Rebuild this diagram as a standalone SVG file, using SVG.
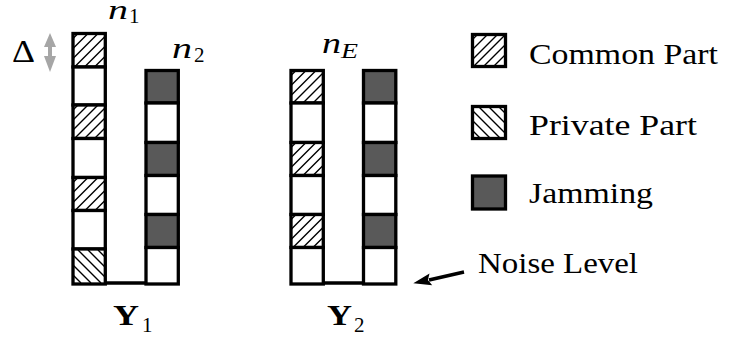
<svg xmlns="http://www.w3.org/2000/svg" width="729" height="340" viewBox="0 0 729 340">
<style>
.cell{stroke:#000;stroke-width:3.3;fill:#fff}
.d{fill:#595959}
.h{fill:none;stroke:#000;stroke-width:1.4}
.base{stroke:#000;stroke-width:3.3;fill:none}
</style>
<rect width="729" height="340" fill="#fff"/>

<g id="col-n1">
<rect class="cell" x="73" y="33.5" width="32.3" height="33.5"/>
<rect class="cell" x="73" y="67" width="32.3" height="38"/>
<rect class="cell" x="73" y="105" width="32.3" height="33.5"/>
<rect class="cell" x="73" y="138.5" width="32.3" height="39"/>
<rect class="cell" x="73" y="177.5" width="32.3" height="33"/>
<rect class="cell" x="73" y="210.5" width="32.3" height="38.5"/>
<rect class="cell" x="73" y="249" width="32.3" height="35"/>
<path class="h" transform="translate(73,33.5)" d="M0,5L5,0M0,15L15,0M0,25L25,0M2,33L32,3M12,33L32,13M22,33L32,23"/>
<path class="h" transform="translate(73,105)" d="M0,5L5,0M0,15L15,0M0,25L25,0M2,33L32,3M12,33L32,13M22,33L32,23"/>
<path class="h" transform="translate(73,177.5)" d="M0,5L5,0M0,15L15,0M0,25L25,0M2,33L32,3M12,33L32,13M22,33L32,23"/>
<path class="h" transform="translate(73,250)" d="M25,0L32,7M15,0L32,17M5,0L32,27M0,5L28,33M0,15L18,33M0,25L8,33"/>
</g>
<g id="col-n2">
<rect class="cell d" x="146" y="70.5" width="32.3" height="32.5"/>
<rect class="cell" x="146" y="103" width="32.3" height="39.5"/>
<rect class="cell d" x="146" y="142.5" width="32.3" height="33"/>
<rect class="cell" x="146" y="175.5" width="32.3" height="39"/>
<rect class="cell d" x="146" y="214.5" width="32.3" height="33"/>
<rect class="cell" x="146" y="247.5" width="32.3" height="36.5"/>
</g>
<g id="col-nE1">
<rect class="cell" x="291" y="70.5" width="32.3" height="32.5"/>
<rect class="cell" x="291" y="103" width="32.3" height="39.5"/>
<rect class="cell" x="291" y="142.5" width="32.3" height="33"/>
<rect class="cell" x="291" y="175.5" width="32.3" height="39"/>
<rect class="cell" x="291" y="214.5" width="32.3" height="33"/>
<rect class="cell" x="291" y="247.5" width="32.3" height="36.5"/>
<path class="h" transform="translate(291,70.5)" d="M0,5L5,0M0,15L15,0M0,25L25,0M2,32.5L31.5,3M12,32.5L32,12.5M22,32.5L32,22.5"/>
<path class="h" transform="translate(291,142.5)" d="M0,5L5,0M0,15L15,0M0,25L25,0M2,33L32,3M12,33L32,13M22,33L32,23"/>
<path class="h" transform="translate(291,214.5)" d="M0,5L5,0M0,15L15,0M0,25L25,0M2,33L32,3M12,33L32,13M22,33L32,23"/>
</g>
<g id="col-nE2">
<rect class="cell d" x="363.5" y="70.5" width="32.3" height="32.5"/>
<rect class="cell" x="363.5" y="103" width="32.3" height="39.5"/>
<rect class="cell d" x="363.5" y="142.5" width="32.3" height="33"/>
<rect class="cell" x="363.5" y="175.5" width="32.3" height="39"/>
<rect class="cell d" x="363.5" y="214.5" width="32.3" height="33"/>
<rect class="cell" x="363.5" y="247.5" width="32.3" height="36.5"/>
</g>

<g id="connectors">
<line class="base" x1="105" y1="283" x2="146" y2="283"/>
<line class="base" x1="323" y1="283" x2="363.5" y2="283"/>
<line x1="464" y1="272" x2="429" y2="280" stroke="#000" stroke-width="3.4"/>
<polygon points="413.3,283.3 432.2,285.15 427.9,280 429.5,273.45" fill="#000"/>
<path d="M50,33 L56,47 L52,47 L52,56 L56,56 L50,72 L44,56 L48,56 L48,47 L44,47 Z" fill="#a6a6a6"/>
</g>

<g id="labels">
<text x="12" y="62" style="font-family:'Liberation Serif',serif;font-size:32px" textLength="23" lengthAdjust="spacingAndGlyphs">&#916;</text>
<text x="108" y="19" style="font-family:'Liberation Serif',serif;font-size:28px;font-style:italic" textLength="20" lengthAdjust="spacingAndGlyphs">n</text>
<text x="129" y="23" style="font-family:'Liberation Serif',serif;font-size:21px">1</text>
<text x="172" y="58" style="font-family:'Liberation Serif',serif;font-size:29px;font-style:italic" textLength="20" lengthAdjust="spacingAndGlyphs">n</text>
<text x="194" y="62" style="font-family:'Liberation Serif',serif;font-size:21px">2</text>
<text x="322" y="53" style="font-family:'Liberation Serif',serif;font-size:29px;font-style:italic" textLength="19" lengthAdjust="spacingAndGlyphs">n</text>
<text x="341" y="58" style="font-family:'Liberation Serif',serif;font-size:21px;font-style:italic" textLength="17" lengthAdjust="spacingAndGlyphs">E</text>
<text x="113" y="325" style="font-family:'Liberation Serif',serif;font-size:29px;font-weight:bold" textLength="26" lengthAdjust="spacingAndGlyphs">Y</text>
<text x="142" y="332" style="font-family:'Liberation Serif',serif;font-size:21px">1</text>
<text x="327" y="325" style="font-family:'Liberation Serif',serif;font-size:29px;font-weight:bold" textLength="25" lengthAdjust="spacingAndGlyphs">Y</text>
<text x="354" y="332" style="font-family:'Liberation Serif',serif;font-size:21px">2</text>
<text x="478" y="273" style="font-family:'Liberation Serif',serif;font-size:30px" textLength="160" lengthAdjust="spacingAndGlyphs">Noise Level</text>
</g>

<g id="legend-common">
<rect class="cell" x="472.5" y="34.5" width="33" height="32"/>
<path class="h" transform="translate(472.5,34.5)" d="M0,5L5,0M0,15L15,0M0,25L25,0M1,32L33,0M11,32L33,10M21,32L33,20"/>
<text x="529" y="63.5" style="font-family:'Liberation Serif',serif;font-size:30px" textLength="189" lengthAdjust="spacingAndGlyphs">Common Part</text>
</g>
<g id="legend-private">
<rect class="cell" x="472.5" y="106.5" width="33" height="32"/>
<path class="h" transform="translate(472.5,106.5)" d="M26,0L33,7M16,0L33,17M6,0L33,27M0,4L28,32M0,14L18,32M0,24L8,32"/>
<text x="529" y="134.5" style="font-family:'Liberation Serif',serif;font-size:30px" textLength="168" lengthAdjust="spacingAndGlyphs">Private Part</text>
</g>
<g id="legend-jamming">
<rect class="cell d" x="472.5" y="176" width="33" height="33"/>
<text x="529" y="203" style="font-family:'Liberation Serif',serif;font-size:30px" textLength="124" lengthAdjust="spacingAndGlyphs">Jamming</text>
</g>
</svg>
